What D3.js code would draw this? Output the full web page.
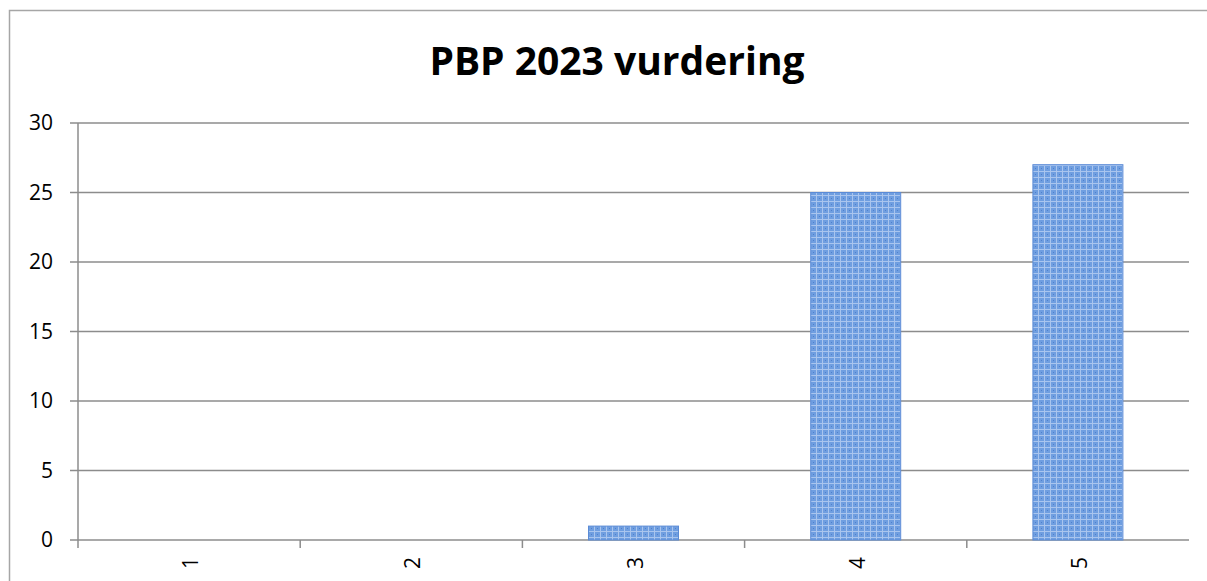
<!DOCTYPE html>
<html>
<head>
<meta charset="utf-8">
<script src="https://cdn.jsdelivr.net/npm/d3@7"></script>
<style>
  body { margin: 0; background: #fff; }
  text { font-family: "Open Sans", "Liberation Sans", sans-serif; }
</style>
</head>
<body>
<script>
// data
const categories = ["1", "2", "3", "4", "5"];
const values = [0, 0, 1, 25, 27];
const yTicks = [0, 5, 10, 15, 20, 25, 30];

const W = 1207, H = 581;
const margin = {top: 123, right: 18, bottom: 41, left: 78};
const width = W - margin.left - margin.right,
      height = H - margin.top - margin.bottom;

const svg = d3.select("body").append("svg")
    .attr("width", W)
    .attr("height", H);

// bar fill pattern
const defs = svg.append("defs");
const pat = defs.append("pattern")
    .attr("id", "grid")
    .attr("width", 6).attr("height", 6)
    .attr("patternUnits", "userSpaceOnUse");
pat.append("rect").attr("width", 6).attr("height", 6).attr("fill", "#6f9ee0");
pat.append("path").attr("d", "M0,0.5H6M0.5,0V6")
    .attr("stroke", "#a9c5ee").attr("stroke-width", 1);
pat.append("rect").attr("x", 3).attr("y", 3).attr("width", 1).attr("height", 1).attr("fill", "#4f80cc");

// chart border
svg.append("rect")
    .attr("x", 9.5).attr("y", 10.5)
    .attr("width", W + 20).attr("height", H + 20)
    .attr("fill", "none")
    .attr("stroke", "#a6a6a6")
    .attr("stroke-width", 1.5);

const g = svg.append("g")
    .attr("transform", `translate(${margin.left},${margin.top})`);

const x = d3.scaleBand()
    .domain(categories)
    .range([0, width])
    .paddingInner(0.595)
    .paddingOuter(0.2975);

const y = d3.scaleLinear()
    .domain([0, 30])
    .range([height, 0]);

// gridlines
g.append("g")
    .selectAll("line")
    .data(yTicks)
    .join("line")
      .attr("x1", -8).attr("x2", width)
      .attr("y1", d => y(d)).attr("y2", d => y(d))
      .attr("stroke", "#8c8c8c")
      .attr("stroke-width", 1.5);

// y axis
const yAxis = g.append("g")
    .call(d3.axisLeft(y).tickValues(yTicks).tickSize(0).tickPadding(25));
yAxis.select(".domain").remove();
yAxis.selectAll("text")
    .attr("font-size", "21px")
    .attr("fill", "#000")
    .style("font-family", "'Open Sans', sans-serif");
g.append("line")
    .attr("x1", 0).attr("x2", 0)
    .attr("y1", 0).attr("y2", height + 8)
    .attr("stroke", "#8c8c8c").attr("stroke-width", 1.5);

// x ticks at band boundaries
const step = x.step();
g.append("g")
    .selectAll("line")
    .data(categories.slice(1))
    .join("line")
      .attr("x1", (d, i) => (i + 1) * step).attr("x2", (d, i) => (i + 1) * step)
      .attr("y1", height).attr("y2", height + 8)
      .attr("stroke", "#8c8c8c").attr("stroke-width", 1.5);

// bars
g.selectAll(".bar")
    .data(values)
    .join("rect")
      .attr("class", "bar")
      .attr("x", (d, i) => x(categories[i]))
      .attr("y", d => y(d))
      .attr("width", x.bandwidth())
      .attr("height", d => height - y(d))
      .attr("fill", "url(#grid)")
      .attr("stroke", d => d > 0 ? "#5b8bd6" : "none")
      .attr("stroke-width", 1);

// x labels, rotated
g.selectAll(".xlab")
    .data(categories)
    .join("text")
      .attr("class", "xlab")
      .attr("transform", d => `translate(${x(d) + x.bandwidth() / 2 + 9},${height + 23}) rotate(-90)`)
      .attr("text-anchor", "middle")
      .attr("font-size", "21px")
      .attr("fill", "#000")
      .text(d => d);

// title
svg.append("text")
    .attr("x", 617)
    .attr("y", 75)
    .attr("text-anchor", "middle")
    .attr("font-size", "39px")
    .attr("font-weight", "bold")
    .attr("fill", "#000")
    .text("PBP 2023 vurdering");
</script>
</body>
</html>
